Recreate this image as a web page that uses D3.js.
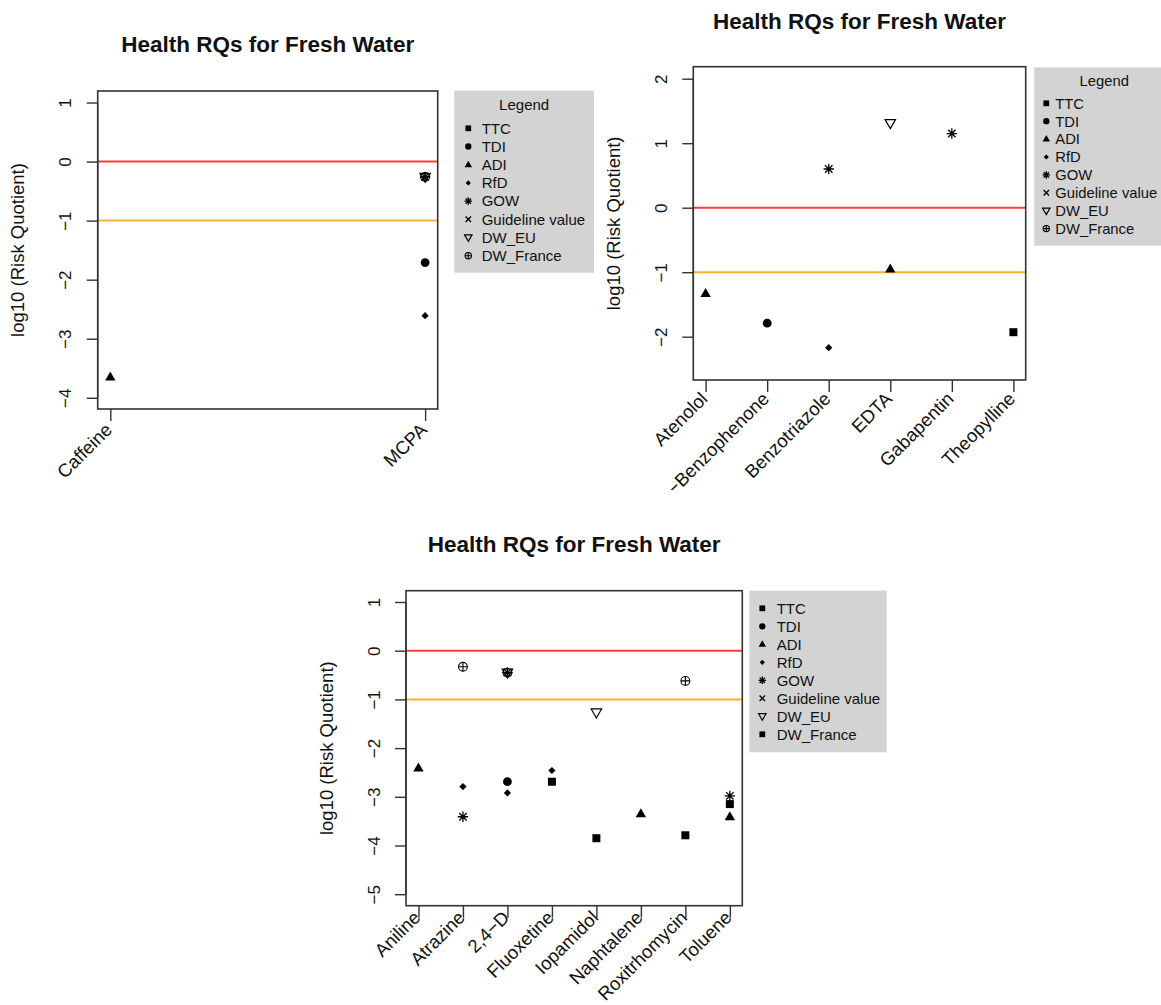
<!DOCTYPE html>
<html><head><meta charset="utf-8">
<script src="https://cdn.jsdelivr.net/npm/d3@7"></script>
<style>
body{margin:0;background:#fff}
svg{display:block}
text{font-family:"Liberation Sans",Arial,Helvetica,sans-serif;fill:#111}
</style>
</head><body>
<svg id="c" width="1161" height="1005"></svg>
<script>
// ---------------- DATA ----------------
const seriesNames = ["TTC","TDI","ADI","RfD","GOW","Guideline value","DW_EU","DW_France"];
const yTicksA = [1,0,-1,-2,-3,-4];
const yTicksB = [2,1,0,-1,-2];
const yTicksC = [1,0,-1,-2,-3,-4,-5];
const yLimA = [-4.19, 1.195];
const yLimB = [-2.671, 2.186];
const yLimC = [-5.236, 1.232];
const thresholdLines = [0, -1];

// Panel A (top-left)
const catsA  = ["Caffeine","MCPA"];
const ttcA   = [null, null];
const tdiA   = [null, -1.71];
const adiA   = [-3.65, null];
const rfdA   = [null, -2.61];
const gowA   = [null, -0.26];
const guideA = [null, null];
const dweuA  = [null, -0.26];
const dwfrA  = [null, -0.26];

// Panel B (top-right)
const catsB  = ["Atenolol","\u2212Benzophenone","Benzotriazole","EDTA","Gabapentin","Theopylline"];
const ttcB   = [null, null, null, null, null, -1.93];
const tdiB   = [null, -1.79, null, null, null, null];
const adiB   = [-1.33, null, null, -0.95, null, null];
const rfdB   = [null, null, -2.17, null, null, null];
const gowB   = [null, null, 0.60, null, 1.15, null];
const guideB = [null, null, null, null, null, null];
const dweuB  = [null, null, null, 1.31, null, null];
const dwfrB  = [null, null, null, null, null, null];

// Panel C (bottom)
const catsC  = ["Aniline","Atrazine","2,4\u2212D","Fluoxetine","Iopamidol","Naphtalene","Roxitrhomycin","Toluene"];
const ttcC   = [null, null, null, -2.69, -3.85, null, -3.79, -3.15];
const tdiC   = [null, null, -2.69, null, null, null, null, null];
const adiC   = [-2.41, null, null, null, null, -3.35, null, -3.41];
const rfdC   = [null, -2.79, -2.92, -2.46, null, null, null, null];
const gowC   = [null, -3.41, -0.45, null, null, null, null, -2.98];
const guideC = [null, null, null, null, null, null, null, null];
const dweuC  = [null, null, -0.45, null, -1.27, null, null, null];
const dwfrC  = [null, -0.33, -0.45, null, null, null, -0.62, null];

// ---------------- STYLE / LAYOUT ----------------
const plotSymbols = ["square","circle","triUp","diamond","asterisk","cross","triDown","circlePlus"];
const legendSymbolsAB = ["square","circle","triUp","diamond","asterisk","cross","triDown","circlePlus"];
const legendSymbolsC  = ["square","circle","triUp","diamond","asterisk","cross","triDown","square"];
const lineColors = ["#ff3b3b", "#ffb02a"];

const svg = d3.select("#c");
svg.append("defs").append("clipPath").attr("id","topclip")
  .append("rect").attr("x",0).attr("y",0).attr("width",1161).attr("height",490);

function drawSymbol(g, type, cx, cy, k) {
  const s = g.append("g").attr("transform", `translate(${cx},${cy})`);
  const sw = 1.3;
  if (type === "square") {
    const a = 8*k; s.append("rect").attr("x",-a/2).attr("y",-a/2).attr("width",a).attr("height",a).attr("fill","#000");
  } else if (type === "circle") {
    s.append("circle").attr("r",4.4*k).attr("fill","#000");
  } else if (type === "triUp") {
    s.append("path").attr("d",`M0,${-5.6*k}L${5.2*k},${3.4*k}L${-5.2*k},${3.4*k}Z`).attr("fill","#000");
  } else if (type === "diamond") {
    const r = 3.6*k;
    s.append("path").attr("d",`M0,${-r}L${r},0L0,${r}L${-r},0Z`).attr("fill","#000");
  } else if (type === "asterisk") {
    const h = 5.2*k, d = 3.7*k;
    s.append("path").attr("d",`M0,${-h}V${h}M${-h},0H${h}M${-d},${-d}L${d},${d}M${-d},${d}L${d},${-d}`)
      .attr("stroke","#000").attr("stroke-width",sw).attr("fill","none");
  } else if (type === "cross") {
    const d = 3.8*k;
    s.append("path").attr("d",`M${-d},${-d}L${d},${d}M${-d},${d}L${d},${-d}`)
      .attr("stroke","#000").attr("stroke-width",sw).attr("fill","none");
  } else if (type === "triDown") {
    s.append("path").attr("d",`M0,${5.4*k}L${5.2*k},${-3.6*k}L${-5.2*k},${-3.6*k}Z`)
      .attr("stroke","#000").attr("stroke-width",1.2).attr("fill","none");
  } else if (type === "circlePlus") {
    const r = 4.4*k;
    s.append("circle").attr("r",r).attr("stroke","#000").attr("stroke-width",1.1).attr("fill","none");
    s.append("path").attr("d",`M0,${-r}V${r}M${-r},0H${r}`).attr("stroke","#000").attr("stroke-width",1.1);
  }
}

function drawPanel(cfg) {
  const root = svg.append("g");
  if (cfg.clip) root.attr("clip-path","url(#topclip)");
  const {left, top, right, bottom} = cfg.box;
  const n = cfg.cats.length;
  const x = d3.scalePoint().domain(cfg.cats).range([left, right]).padding(0.04*(n-1));
  const y = d3.scaleLinear().domain(cfg.yLim).range([bottom, top]);

  // title
  root.append("text").attr("x",(left+right)/2).attr("y",cfg.titleY)
    .attr("text-anchor","middle").attr("font-weight","bold").attr("font-size",22.5)
    .text("Health RQs for Fresh Water");

  // threshold lines
  thresholdLines.forEach((v,i)=>{
    root.append("line").attr("x1",left).attr("x2",right).attr("y1",y(v)).attr("y2",y(v))
      .attr("stroke",lineColors[i]).attr("stroke-width",2);
  });

  // y axis
  const ya = root.append("g").attr("transform",`translate(${left},0)`)
    .call(d3.axisLeft(y).tickValues(cfg.yTicks).tickSize(11).tickFormat(d=>d3.format("d")(d).replace("-","\u2212")));
  ya.select(".domain").attr("stroke","none");
  ya.selectAll(".tick line").attr("stroke","#333").attr("stroke-width",1.4);
  ya.selectAll(".tick text").attr("font-size",17).attr("fill","#111")
    .attr("transform","rotate(-90)").attr("x",0).attr("y",-26.5).attr("dy",null)
    .attr("text-anchor","middle");
  ya.attr("font-family",null).attr("font-size",null);
  root.append("line").attr("x1",left).attr("x2",left)
    .attr("y1",y(cfg.yTicks[0])).attr("y2",y(cfg.yTicks[cfg.yTicks.length-1])).attr("stroke","#333").attr("stroke-width",1.4);

  // y label
  root.append("text").attr("transform",`translate(${left-73.5},${(top+bottom)/2}) rotate(-90)`)
    .attr("text-anchor","middle").attr("font-size",18.5).text("log10 (Risk Quotient)");

  // x axis ticks
  const xa = root.append("g").attr("transform",`translate(0,${bottom})`)
    .call(d3.axisBottom(x).tickSize(12).tickFormat(""));
  xa.select(".domain").remove();
  xa.selectAll(".tick line").attr("stroke","#333").attr("stroke-width",1.4);
  root.selectAll(null).data(cfg.cats).enter().append("text")
    .attr("transform",d=>`translate(${x(d)+3},${bottom+cfg.labelDy}) rotate(-45)`)
    .attr("text-anchor","end").attr("font-size",18.5).text(d=>d);

  // box
  root.append("rect").attr("x",left).attr("y",top).attr("width",right-left).attr("height",bottom-top)
    .attr("fill","none").attr("stroke","#333").attr("stroke-width",1.6);

  // points
  cfg.series.forEach((vals, si)=>{
    vals.forEach((v, ci)=>{
      if (v === null) return;
      drawSymbol(root, plotSymbols[si], x(cfg.cats[ci]), y(v), 1);
    });
  });

  // legend
  const L = cfg.legend;
  root.append("rect").attr("x",L.x).attr("y",L.y).attr("width",L.w).attr("height",L.h).attr("fill","#d3d3d3");
  if (L.title) {
    root.append("text").attr("x",L.x+L.w/2).attr("y",L.titleY+5.3).attr("text-anchor","middle")
      .attr("font-size",L.fs).text("Legend");
  }
  seriesNames.forEach((name,i)=>{
    const cy = L.firstY + i*L.step;
    drawSymbol(root, L.symbols[i], L.x+L.symDx, cy, 0.72);
    root.append("text").attr("x",L.x+L.textDx).attr("y",cy+5.3).attr("font-size",L.fs).text(name);
  });
}

drawPanel({
  cats: catsA, series: [ttcA,tdiA,adiA,rfdA,gowA,guideA,dweuA,dwfrA],
  box: {left:97.7, top:91, right:437.7, bottom:409}, yLim: yLimA, yTicks: yTicksA,
  titleY: 51.5, labelDy: 22, clip: true,
  legend: {x:454.3, y:90.7, w:139.7, h:182, title:true, titleY:105, firstY:128.3, step:18.2,
           symDx:14, textDx:27.4, fs:15, symbols: legendSymbolsAB}
});
drawPanel({
  cats: catsB, series: [ttcB,tdiB,adiB,rfdB,gowB,guideB,dweuB,dwfrB],
  box: {left:693.3, top:66.7, right:1025.7, bottom:380}, yLim: yLimB, yTicks: yTicksB,
  titleY: 29, labelDy: 20, clip: true,
  legend: {x:1034.3, y:67.3, w:140, h:178.4, title:true, titleY:80.7, firstY:103.3, step:17.9,
           symDx:12, textDx:21, fs:14.8, symbols: legendSymbolsAB}
});
drawPanel({
  cats: catsC, series: [ttcC,tdiC,adiC,rfdC,gowC,guideC,dweuC,dwfrC],
  box: {left:406, top:590.7, right:742.3, bottom:905.7}, yLim: yLimC, yTicks: yTicksC,
  titleY: 551.5, labelDy: 13, clip: false,
  legend: {x:749.3, y:590.7, w:137.4, h:161.6, title:false, firstY:608.3, step:18,
           symDx:13, textDx:27.4, fs:15, symbols: legendSymbolsC}
});
</script>
</body></html>
